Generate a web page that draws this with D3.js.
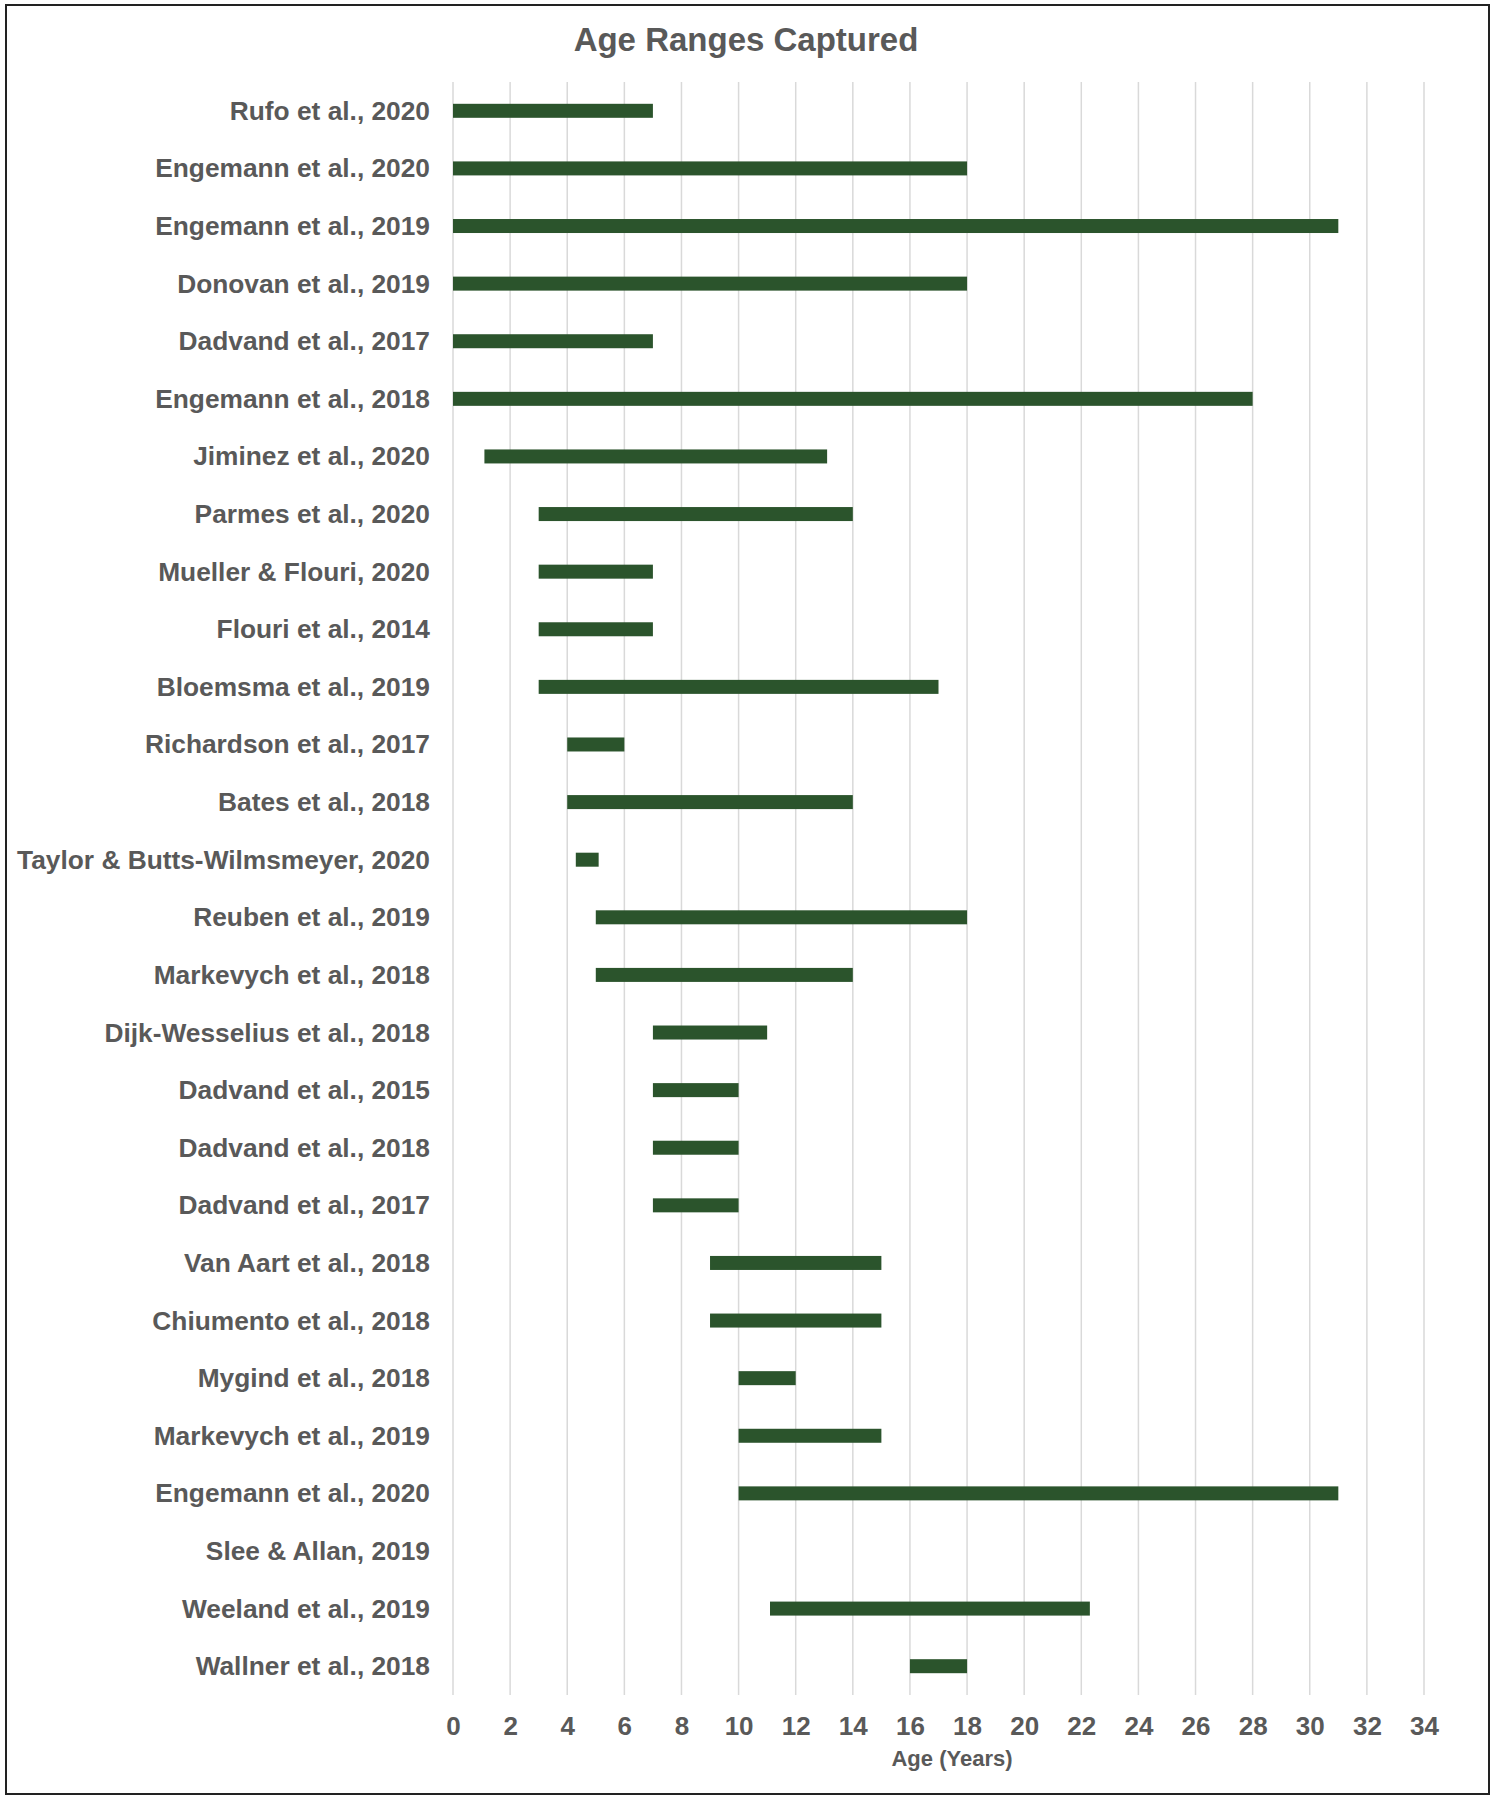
<!DOCTYPE html>
<html>
<head>
<meta charset="utf-8">
<script src="https://cdn.jsdelivr.net/npm/d3@7"></script>
<style>
  body { margin: 0; background: #fff; }
  svg { display: block; }
</style>
</head>
<body>
<svg id="chart" width="1494" height="1800"></svg>
<script>
// data
const studies = [
  "Rufo et al., 2020", "Engemann et al., 2020", "Engemann et al., 2019",
  "Donovan et al., 2019", "Dadvand et al., 2017", "Engemann et al., 2018",
  "Jiminez et al., 2020", "Parmes et al., 2020", "Mueller & Flouri, 2020",
  "Flouri et al., 2014", "Bloemsma et al., 2019", "Richardson et al., 2017",
  "Bates et al., 2018", "Taylor & Butts-Wilmsmeyer, 2020", "Reuben et al., 2019",
  "Markevych et al., 2018", "Dijk-Wesselius et al., 2018", "Dadvand et al., 2015",
  "Dadvand et al., 2018", "Dadvand et al., 2017", "Van Aart et al., 2018",
  "Chiumento et al., 2018", "Mygind et al., 2018", "Markevych et al., 2019",
  "Engemann et al., 2020", "Slee & Allan, 2019", "Weeland et al., 2019",
  "Wallner et al., 2018"
];
const ageStart = [0, 0, 0, 0, 0, 0, 1.1, 3, 3, 3, 3, 4, 4, 4.3, 5, 5, 7, 7, 7, 7, 9, 9, 10, 10, 10, null, 11.1, 16];
const ageEnd   = [7, 18, 31, 18, 7, 28, 13.1, 14, 7, 7, 17, 6, 14, 5.1, 18, 14, 11, 10, 10, 10, 15, 15, 12, 15, 31, null, 22.3, 18];
const xTicks = d3.range(0, 35, 2);

const svg = d3.select("#chart");
const grey = "#595959";
const green = "#2b542c";
const font = "Liberation Sans, Arial, sans-serif";

// outer frame
svg.append("rect")
  .attr("x", 6).attr("y", 5)
  .attr("width", 1483).attr("height", 1789)
  .attr("fill", "#fff")
  .attr("stroke", "#222")
  .attr("stroke-width", 2);

const plotL = 453, plotR = 1424, plotT = 82, plotB = 1695;

const x = d3.scaleLinear().domain([0, 34]).range([plotL, plotR]);
const y = d3.scaleBand()
  .domain(d3.range(studies.length))
  .range([plotT, plotB]);

// gridlines
svg.append("g")
  .selectAll("line")
  .data(xTicks)
  .join("line")
  .attr("x1", d => x(d)).attr("x2", d => x(d))
  .attr("y1", plotT).attr("y2", plotB)
  .attr("stroke", "#d9d9d9")
  .attr("stroke-width", 1.5);

// title
svg.append("text")
  .attr("x", 746).attr("y", 51)
  .attr("text-anchor", "middle")
  .attr("fill", grey)
  .attr("font-family", font)
  .attr("font-weight", "bold")
  .attr("font-size", "33px")
  .text("Age Ranges Captured");

// bars
const barH = 14;
svg.append("g")
  .selectAll("rect")
  .data(studies.map((s, i) => ({ i, a: ageStart[i], b: ageEnd[i] })).filter(d => d.a != null))
  .join("rect")
  .attr("x", d => x(d.a))
  .attr("width", d => x(d.b) - x(d.a))
  .attr("y", d => y(d.i) + y.bandwidth() / 2 - barH / 2)
  .attr("height", barH)
  .attr("fill", green);

// category labels
svg.append("g")
  .selectAll("text")
  .data(studies)
  .join("text")
  .attr("x", 430)
  .attr("y", (d, i) => y(i) + y.bandwidth() / 2 + 9)
  .attr("text-anchor", "end")
  .attr("fill", grey)
  .attr("font-family", font)
  .attr("font-weight", "bold")
  .attr("font-size", "26.3px")
  .text(d => d);

// x axis labels
const xAxis = d3.axisBottom(x).tickValues(xTicks).tickSize(0).tickPadding(0);
const gx = svg.append("g")
  .attr("transform", `translate(0, 1735)`)
  .call(xAxis);
gx.select(".domain").remove();
gx.selectAll("text")
  .attr("y", 0)
  .attr("dy", 0)
  .attr("fill", grey)
  .attr("font-family", font)
  .attr("font-weight", "bold")
  .attr("font-size", "26px");

// axis title
svg.append("text")
  .attr("x", 952).attr("y", 1766)
  .attr("text-anchor", "middle")
  .attr("fill", grey)
  .attr("font-family", font)
  .attr("font-weight", "bold")
  .attr("font-size", "22px")
  .text("Age (Years)");
</script>
</body>
</html>
